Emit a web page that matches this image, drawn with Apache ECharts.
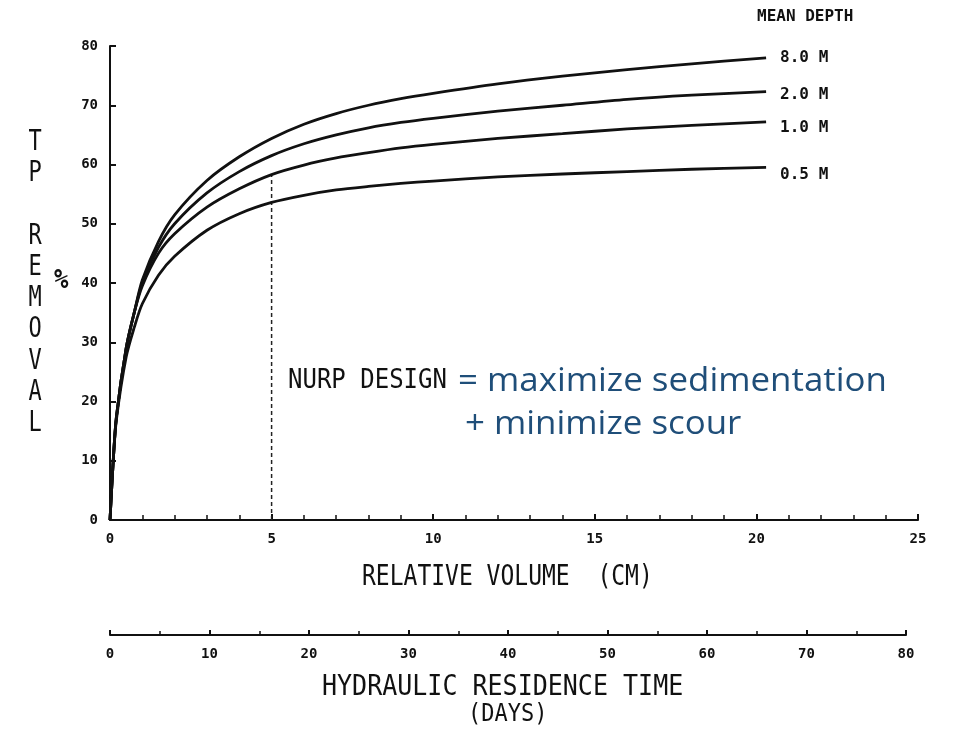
<!DOCTYPE html>
<html lang="en">
  <head>
    <meta charset="UTF-8" />
    <title>TP removal vs relative volume</title>
    <script src="https://cdn.jsdelivr.net/npm/echarts/dist/echarts.min.js"></script>
    <style>
      * {
        margin: 0;
        padding: 0;
      }
      html,
      body {
        background: #fff;
      }
    </style>
  </head>
  <body>
    <div id="charts" style="width: 956px; height: 733px"></div>
    <script>
      var volume = [0, 0.1, 0.2, 0.5, 0.75, 1, 1.5, 2, 3, 4, 5, 6, 7, 8, 9, 10, 12, 14, 16, 18, 20.3];
      // TP removal (%) for each mean depth
      var depth8 = [0, 10, 17.5, 29, 35, 40.5, 47, 51.5, 57.3, 61.3, 64.4, 66.8, 68.6, 70, 71.1, 72, 73.6, 74.9, 76, 77, 78];
      var depth2 = [0, 10, 17.5, 29, 35, 40, 46, 50, 55.2, 58.8, 61.5, 63.5, 65, 66.2, 67.1, 67.8, 69, 70, 71, 71.7, 72.3];
      var depth1 = [0, 10, 17.5, 29, 35, 39.5, 45, 48.3, 52.8, 55.9, 58.3, 59.9, 61.1, 62, 62.8, 63.4, 64.4, 65.2, 66, 66.6, 67.2];
      var depth05 = [0, 10, 17, 27.5, 32.5, 36.5, 41.3, 44.5, 48.9, 51.7, 53.6, 54.8, 55.7, 56.3, 56.8, 57.2, 57.9, 58.4, 58.8, 59.2, 59.5];
      var depthNames = ["8.0 M", "2.0 M", "1.0 M", "0.5 M"];
      // NURP design point
      var designVolume = 5;
      var designRemoval = 58.3;

      var typeFont = "'DejaVu Sans Mono', 'Liberation Mono', monospace";
      var blueFont = "'Open Sans', 'Noto Sans', sans-serif";
      var labelOffsets = [[0, 0], [0, 3], [0, 6], [0, 7]];

      function pairs(ys) {
        return volume.map(function (v, i) {
          return [v, ys[i]];
        });
      }

      var curves = [depth8, depth2, depth1, depth05].map(function (ys, i) {
        return {
          name: depthNames[i],
          type: "line",
          data: pairs(ys),
          smooth: 0.3,
          symbol: "none",
          lineStyle: { color: "#111", width: 2.8 },
          endLabel: {
            show: true,
            formatter: depthNames[i],
            distance: 14,
            offset: labelOffsets[i],
            color: "#111",
            fontFamily: typeFont,
            fontWeight: "bold",
            fontSize: 16,
          },
          z: 3,
        };
      });

      // plain text block drawn in the typewriter style of the original
      function typeText(x, y, text, size, sy, extra) {
        var style = { text: text, fill: "#111", font: size + "px " + typeFont, verticalAlign: "top" };
        for (var k in extra) style[k] = extra[k];
        return { type: "text", x: x, y: y, scaleY: sy, style: style };
      }

      var myEcharts = echarts.init(document.getElementById("charts"));
      var options = {
        animation: false,
        backgroundColor: "#fff",
        grid: [
          { left: 110, right: 38, top: 46, bottom: 213 },
          { left: 110, right: 50, top: 634, height: 1 },
        ],
        xAxis: [
          {
            type: "value",
            gridIndex: 0,
            min: 0,
            max: 25,
            interval: 5,
            axisLine: { lineStyle: { color: "#111", width: 2 } },
            axisTick: { inside: true, length: 6, lineStyle: { color: "#111", width: 2 } },
            minorTick: { show: true, splitNumber: 5, length: 5, lineStyle: { color: "#111", width: 1.5 } },
            splitLine: { show: false },
            axisLabel: { color: "#111", fontFamily: typeFont, fontWeight: "bold", fontSize: 14, margin: 12 },
          },
          {
            type: "value",
            gridIndex: 1,
            position: "bottom",
            min: 0,
            max: 80,
            interval: 10,
            axisLine: { lineStyle: { color: "#111", width: 2 } },
            axisTick: { inside: true, length: 5, lineStyle: { color: "#111", width: 2 } },
            minorTick: { show: true, splitNumber: 2, length: 4, lineStyle: { color: "#111", width: 1.5 } },
            splitLine: { show: false },
            axisLabel: { color: "#111", fontFamily: typeFont, fontWeight: "bold", fontSize: 14, margin: 12 },
          },
        ],
        yAxis: [
          {
            type: "value",
            gridIndex: 0,
            min: 0,
            max: 80,
            interval: 10,
            axisLine: { show: true, lineStyle: { color: "#111", width: 2 } },
            axisTick: { show: true, inside: true, length: 6, lineStyle: { color: "#111", width: 2 } },
            splitLine: { show: false },
            axisLabel: { color: "#111", fontFamily: typeFont, fontWeight: "bold", fontSize: 14, margin: 12 },
          },
          {
            type: "value",
            gridIndex: 1,
            show: false,
            min: 0,
            max: 1,
          },
        ],
        series: curves.concat([
          {
            name: "design",
            type: "line",
            data: [
              [designVolume, 0],
              [designVolume, designRemoval],
            ],
            symbol: "none",
            lineStyle: { color: "#222", width: 1.5, type: [4, 3] },
            z: 2,
          },
          {
            type: "line",
            xAxisIndex: 1,
            yAxisIndex: 1,
            data: [],
          },
        ]),
        graphic: [
          typeText(757, 9, "MEAN DEPTH", 16, 1, { font: "bold 16px " + typeFont }),
          typeText(35, 127, "T\nP\n\nR\nE\nM\nO\nV\nA\nL", 22, 1.25, { lineHeight: 25, align: "center" }),
          typeText(54, 268, "%", 24, 1.1, { font: "bold 24px " + typeFont }),
          typeText(362, 564, "RELATIVE VOLUME  (CM)", 23, 1.2),
          typeText(322, 673, "HYDRAULIC RESIDENCE TIME", 25, 1.15),
          typeText(468, 702, "(DAYS)", 22, 1.15),
          typeText(288, 368, "NURP DESIGN", 24, 1.1),
          {
            type: "text",
            x: 458,
            y: 366,
            scaleX: 1.09,
            style: { text: "= maximize sedimentation", fill: "#1f4e79", font: "32px " + blueFont, verticalAlign: "top" },
          },
          {
            type: "text",
            x: 465,
            y: 409,
            scaleX: 1.09,
            style: { text: "+ minimize scour", fill: "#1f4e79", font: "32px " + blueFont, verticalAlign: "top" },
          },
        ],
      };
      myEcharts.setOption(options);
    </script>
  </body>
</html>
